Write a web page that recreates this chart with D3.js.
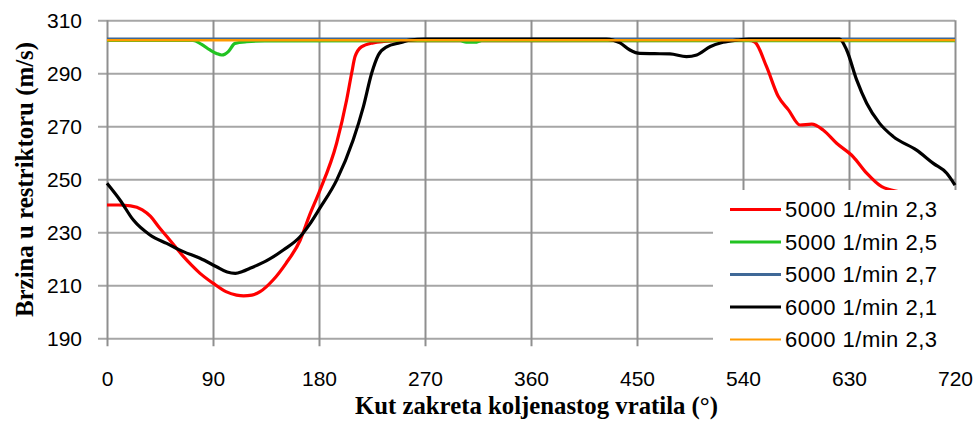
<!DOCTYPE html>
<html>
<head>
<meta charset="utf-8"/>
<script src="https://cdn.jsdelivr.net/npm/d3@7"></script>
<style>
body { margin: 0; background: #fff; }
.tick text { font-family: "Liberation Sans", Arial, sans-serif; font-size: 21px; fill: #000; }
.axis-title { font-family: "Liberation Serif", "Times New Roman", serif; font-weight: bold; font-size: 26px; fill: #000; }
.legend text { font-family: "Liberation Sans", Arial, sans-serif; font-size: 22px; letter-spacing: 0.5px; fill: #000; }
</style>
</head>
<body>
<svg id="chart" width="975" height="421"></svg>
<script>
// crank angle (deg) vs speed in restrictor (m/s)
var xTicks = [0, 90, 180, 270, 360, 450, 540, 630, 720];
var yTicks = [190, 210, 230, 250, 270, 290, 310];

var n5000_23 = [[0,240.3],[10,240.3],[20,240],[30,238.5],[37,236],[44,232],[51,228.3],[58,224.5],[65,220.8],
  [72,217.5],[79,214.5],[90,210.8],[101,207.6],[110,206.3],[116,206],[123,206.3],[130,207.6],[141,212],
  [152,218.3],[164,227],[172,236.5],[180,245],[195,263.7],[203.5,280],[207.7,290],[210.6,296.3],[216,300],
  [226,301.5],[235,302],[250,302.3],[545,302.4],[550,301.8],[560,292.5],[570,281.2],[578.6,276.2],[588.4,270.5],
  [598.4,270.8],[608,268.6],[619.5,263.6],[633.6,258.5],[645,252.3],[657.8,247.2],[673,245.3],[690,244.3],[720,243]];

var n5000_25 = [[0,302.4],[73,302.4],[80,301],[87.5,298.8],[93,297.5],[97.4,296.9],[100,297.2],[103,298.2],
  [108.7,301.3],[118.6,301.9],[134,302.2],[300,302.3],[305,301.8],[314,301.8],[318,302.3],[720,302.3]];

var n5000_27 = [[0,303.1],[720,303.1]];

var n6000_21 = [[0,248.5],[11,242.2],[22.4,234.6],[36.5,229],[50.7,225.8],[64.8,222.7],[79,220.2],[93,217],
  [102,215],[109,214.5],[115,215.2],[121.4,216.4],[135.6,219.3],[149.7,223.3],[163.9,228.3],[172,233],[181,239.3],
  [195,249.7],[209,264.8],[217.7,277.4],[224.7,290],[230.4,296.9],[237.5,300],[248.8,301.5],[257,302.5],
  [270,302.9],[424,302.9],[435.6,301.5],[444,298.8],[452.5,297.5],[465,297.4],[478,297.3],[492,296.3],
  [500.7,296.9],[512,300],[523,301.7],[534.6,302.5],[545,302.9],[622,302.9],[628,298.8],[636.5,287.5],
  [645,278.7],[656,271.1],[667.6,266.1],[687.4,261],[701.6,256],[713,252.3],[720,247.8]];

var n6000_23 = [[0,302.5],[720,302.5]];

var seriesNames = ["5000 1/min 2,3", "5000 1/min 2,5", "5000 1/min 2,7", "6000 1/min 2,1", "6000 1/min 2,3"];
var seriesData = [n5000_23, n5000_25, n5000_27, n6000_21, n6000_23];
var seriesColors = ["#ff0000", "#22c322", "#3f6897", "#000000", "#ff9a00"];
var seriesWidths = [3.2, 3.2, 2.2, 3.2, 2.4];
var legendWidths = [3.2, 3.2, 3, 3.2, 2];

var svg = d3.select("#chart");
var plotL = 107, plotR = 955, plotT = 20.3, plotB = 338.3;
var plotW = plotR - plotL, plotH = plotB - plotT;

var x = d3.scaleLinear().domain([0, 720]).range([plotL, plotR]);
var y = d3.scaleLinear().domain([190, 310]).range([plotB, plotT]);

// horizontal grid + y ticks
var gy = svg.append("g")
    .attr("transform", "translate(" + plotL + ",0)")
    .call(d3.axisLeft(y).tickValues(yTicks).tickSizeOuter(0));
gy.select(".domain").remove();
gy.selectAll(".tick line").attr("x1", -9).attr("x2", plotW).attr("stroke", "#a6a6a6").attr("stroke-width", 2);
gy.selectAll(".tick text").attr("x", -25).attr("dy", "0.36em");

// vertical grid + x ticks
var gx = svg.append("g")
    .attr("transform", "translate(0," + plotB + ")")
    .call(d3.axisBottom(x).tickValues(xTicks).tickSizeOuter(0));
gx.select(".domain").remove();
gx.selectAll(".tick line").attr("y1", -plotH).attr("y2", 8).attr("stroke", "#8f8f8f").attr("stroke-width", 2);
gx.selectAll(".tick text").attr("y", 40).attr("dy", "0.36em");

var line = d3.line()
    .x(function(d) { return x(d[0]); })
    .y(function(d) { return y(d[1]); })
    .curve(d3.curveMonotoneX);

seriesData.forEach(function(data, i) {
  svg.append("path")
    .datum(data)
    .attr("fill", "none")
    .attr("stroke", seriesColors[i])
    .attr("stroke-width", seriesWidths[i])
    .attr("stroke-linejoin", "round")
    .attr("d", line);
});

// axis titles
svg.append("text")
  .attr("class", "axis-title")
  .attr("transform", "translate(33,179.5) rotate(-90)")
  .attr("text-anchor", "middle")
  .attr("textLength", 275)
  .attr("lengthAdjust", "spacingAndGlyphs")
  .text("Brzina u restriktoru (m/s)");

svg.append("text")
  .attr("class", "axis-title")
  .attr("x", 536.5)
  .attr("y", 414)
  .attr("text-anchor", "middle")
  .attr("textLength", 363)
  .attr("lengthAdjust", "spacingAndGlyphs")
  .text("Kut zakreta koljenastog vratila (°)");

// legend
var lg = svg.append("g").attr("class", "legend");
lg.append("rect")
  .attr("x", 713).attr("y", 190).attr("width", 250).attr("height", 157)
  .attr("fill", "#fff");

seriesNames.forEach(function(name, i) {
  var cy = 209.5 + i * 32.5;
  lg.append("line")
    .attr("x1", 730).attr("x2", 781).attr("y1", cy).attr("y2", cy)
    .attr("stroke", seriesColors[i]).attr("stroke-width", legendWidths[i]);
  lg.append("text")
    .attr("x", 785).attr("y", cy).attr("dy", "0.36em")
    .text(name);
});
</script>
</body>
</html>
